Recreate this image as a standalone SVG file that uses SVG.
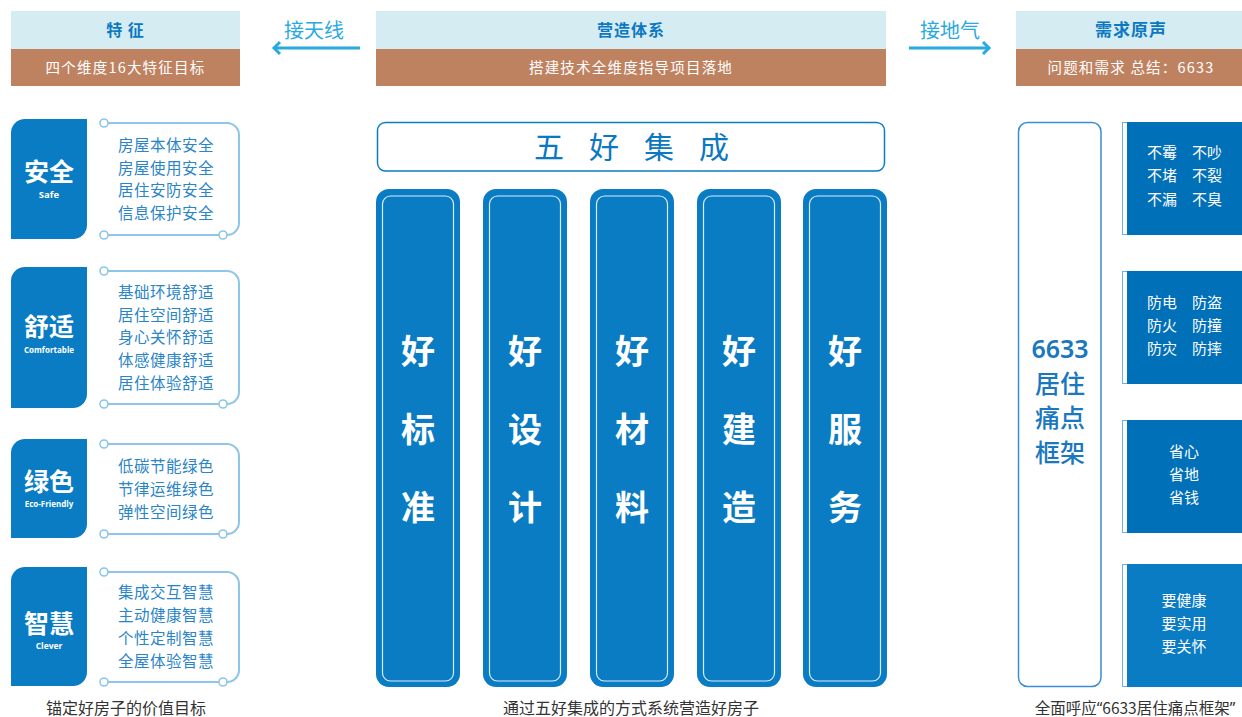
<svg xmlns="http://www.w3.org/2000/svg" width="1242" height="717" viewBox="0 0 1242 717">
<style>
text{font-family:"Noto Sans CJK SC","Noto Sans",sans-serif}
.hb{fill:#d5ecf3}
.br{fill:#bf8261}
.ht{fill:#0b78c1;font-size:16px;font-weight:bold;text-anchor:middle;letter-spacing:1px}
.st{fill:#ffffff;font-size:14.5px;text-anchor:middle;letter-spacing:1.2px}
.arr{fill:#29a9e1;font-size:20px;text-anchor:middle}
.tag{fill:#0a7cc4}
.tg{fill:#fff;font-size:25px;font-weight:bold;text-anchor:middle}
.te{fill:#fff;font-size:9.5px;font-weight:bold;text-anchor:middle;font-family:"Open Sans","Noto Sans",sans-serif}
.bk{fill:none;stroke:#8dc6e8;stroke-width:2}
.dot{fill:#fff;stroke:#8dc6e8;stroke-width:1.6}
.it{fill:#2a85c8;font-size:15.5px;letter-spacing:0.5px}
.cap{fill:#333;font-size:16px;text-anchor:middle}
.col{fill:#0a7cc4}
.colin{fill:none;stroke:#d7ebf8;stroke-width:1.2}
.ct{fill:#fff;font-size:34px;font-weight:bold;text-anchor:middle}
.fw{fill:#1a78c0;font-size:25px;font-weight:500;text-anchor:middle}
.pn{fill:#0070b8}
.pt{fill:#fff;font-size:15px}
.ptc{fill:#fff;font-size:15px;text-anchor:middle}
.q{font-family:"Noto Sans","Liberation Sans",sans-serif}
</style>
<defs>
<marker id="ah" markerUnits="userSpaceOnUse" markerWidth="16" markerHeight="16" refX="11" refY="8" orient="auto-start-reverse">
<path d="M5,2 L11,8 L5,14" fill="none" stroke="#29a9e1" stroke-width="3"/>
</marker>
</defs>

<!-- headers -->
<g id="header-left">
<rect class="hb" x="11" y="11" width="229" height="38"/>
<rect class="br" x="11" y="49" width="229" height="37"/>
<text class="ht" x="125.5" y="36">特 征</text>
<text class="st" x="125.5" y="73">四个维度16大特征目标</text>
</g>
<g id="header-center">
<rect class="hb" x="376" y="11" width="510" height="38"/>
<rect class="br" x="376" y="49" width="510" height="37"/>
<text class="ht" x="631" y="36">营造体系</text>
<text class="st" x="631" y="73">搭建技术全维度指导项目落地</text>
</g>
<g id="header-right">
<rect class="hb" x="1016" y="11" width="226" height="38"/>
<rect class="br" x="1016" y="49" width="226" height="37"/>
<text class="ht" x="1131" y="36" style="font-size:17px">需求原声</text>
<text class="st" x="1131" y="73">问题和需求 总结：6633</text>
</g>

<g id="connectors">
<line x1="274" y1="48" x2="360" y2="48" stroke="#29a9e1" stroke-width="3" marker-start="url(#ah)"/>
<line x1="909" y1="48" x2="989" y2="48" stroke="#29a9e1" stroke-width="3" marker-end="url(#ah)"/>
<text class="arr" x="314" y="38">接天线</text>
<text class="arr" x="950" y="38">接地气</text>
</g>

<!-- left tags -->
<g id="safe">
<path class="tag" d="M11,133 A14,14 0 0 1 25,119 H87 V225 A14,14 0 0 1 73,239 H11 Z"/>
<text class="tg" x="49" y="181">安全</text>
<text class="te" x="49" y="198">Safe</text>
<path class="bk" d="M104,123 H227 A12,12 0 0 1 239,135 V223 A12,12 0 0 1 227,235 H104"/>
<circle class="dot" cx="104" cy="123" r="4"/><circle class="dot" cx="104" cy="235" r="4"/><circle class="dot" cx="223" cy="235" r="4"/>
<text class="it" x="118" y="151">房屋本体安全</text>
<text class="it" x="118" y="174">房屋使用安全</text>
<text class="it" x="118" y="196">居住安防安全</text>
<text class="it" x="118" y="219">信息保护安全</text>
</g>
<g id="comfortable">
<path class="tag" d="M11,281 A14,14 0 0 1 25,267 H87 V394 A14,14 0 0 1 73,408 H11 Z"/>
<text class="tg" x="49" y="336">舒适</text>
<text class="te" x="49" y="353" style="font-size:8px">Comfortable</text>
<path class="bk" d="M104,271 H227 A12,12 0 0 1 239,283 V392 A12,12 0 0 1 227,404 H104"/>
<circle class="dot" cx="104" cy="271" r="4"/><circle class="dot" cx="104" cy="404" r="4"/><circle class="dot" cx="223" cy="404" r="4"/>
<text class="it" x="118" y="298">基础环境舒适</text>
<text class="it" x="118" y="321">居住空间舒适</text>
<text class="it" x="118" y="343">身心关怀舒适</text>
<text class="it" x="118" y="366">体感健康舒适</text>
<text class="it" x="118" y="389">居住体验舒适</text>
</g>
<g id="eco">
<path class="tag" d="M11,453 A14,14 0 0 1 25,439 H87 V524 A14,14 0 0 1 73,538 H11 Z"/>
<text class="tg" x="49" y="491">绿色</text>
<text class="te" x="49" y="507" style="font-size:8px">Eco-Friendly</text>
<path class="bk" d="M104,444 H227 A12,12 0 0 1 239,456 V522 A12,12 0 0 1 227,534 H104"/>
<circle class="dot" cx="104" cy="444" r="4"/><circle class="dot" cx="104" cy="534" r="4"/><circle class="dot" cx="223" cy="534" r="4"/>
<text class="it" x="118" y="472">低碳节能绿色</text>
<text class="it" x="118" y="495">节律运维绿色</text>
<text class="it" x="118" y="518">弹性空间绿色</text>
</g>
<g id="clever">
<path class="tag" d="M11,581 A14,14 0 0 1 25,567 H87 V672 A14,14 0 0 1 73,686 H11 Z"/>
<text class="tg" x="49" y="633">智慧</text>
<text class="te" x="49" y="649" style="font-size:8.5px">Clever</text>
<path class="bk" d="M104,572 H227 A12,12 0 0 1 239,584 V670 A12,12 0 0 1 227,682 H104"/>
<circle class="dot" cx="104" cy="572" r="4"/><circle class="dot" cx="104" cy="682" r="4"/><circle class="dot" cx="223" cy="682" r="4"/>
<text class="it" x="118" y="598">集成交互智慧</text>
<text class="it" x="118" y="621">主动健康智慧</text>
<text class="it" x="118" y="644">个性定制智慧</text>
<text class="it" x="118" y="667">全屋体验智慧</text>
</g>
<text class="cap" x="126" y="714">锚定好房子的价值目标</text>

<!-- center -->
<g id="wuhao">
<rect x="377.5" y="122.5" width="507" height="48.5" rx="8" fill="#fff" stroke="#0b7dc4" stroke-width="1.5"/>
<text x="549" y="158" fill="#0b78c1" font-size="30" text-anchor="middle">五</text>
<text x="604" y="158" fill="#0b78c1" font-size="30" text-anchor="middle">好</text>
<text x="659" y="158" fill="#0b78c1" font-size="30" text-anchor="middle">集</text>
<text x="714" y="158" fill="#0b78c1" font-size="30" text-anchor="middle">成</text>
</g>
<g id="col1">
<rect class="col" x="376" y="189" width="84" height="498" rx="13"/>
<rect class="colin" x="382.5" y="196" width="71" height="485" rx="8"/>
<text class="ct" x="418" y="364">好</text><text class="ct" x="418" y="442">标</text><text class="ct" x="418" y="520">准</text>
</g>
<g id="col2">
<rect class="col" x="483" y="189" width="84" height="498" rx="13"/>
<rect class="colin" x="489.5" y="196" width="71" height="485" rx="8"/>
<text class="ct" x="525" y="364">好</text><text class="ct" x="525" y="442">设</text><text class="ct" x="525" y="520">计</text>
</g>
<g id="col3">
<rect class="col" x="590" y="189" width="84" height="498" rx="13"/>
<rect class="colin" x="596.5" y="196" width="71" height="485" rx="8"/>
<text class="ct" x="632" y="364">好</text><text class="ct" x="632" y="442">材</text><text class="ct" x="632" y="520">料</text>
</g>
<g id="col4">
<rect class="col" x="697" y="189" width="84" height="498" rx="13"/>
<rect class="colin" x="703.5" y="196" width="71" height="485" rx="8"/>
<text class="ct" x="739" y="364">好</text><text class="ct" x="739" y="442">建</text><text class="ct" x="739" y="520">造</text>
</g>
<g id="col5">
<rect class="col" x="803" y="189" width="84" height="498" rx="13"/>
<rect class="colin" x="809.5" y="196" width="71" height="485" rx="8"/>
<text class="ct" x="845" y="364">好</text><text class="ct" x="845" y="442">服</text><text class="ct" x="845" y="520">务</text>
</g>
<text class="cap" x="631" y="714">通过五好集成的方式系统营造好房子</text>

<!-- right -->
<g id="framework">
<rect x="1018.5" y="122.5" width="82.5" height="564" rx="9" fill="#fff" stroke="#3a8fd0" stroke-width="1.5"/>
<text class="fw" x="1060" y="358" style="font-family:'Noto Sans','Noto Sans CJK SC',sans-serif;font-weight:600">6633</text>
<text class="fw" x="1060" y="393">居住</text>
<text class="fw" x="1060" y="427">痛点</text>
<text class="fw" x="1060" y="462">框架</text>
</g>
<g id="panel1">
<rect x="1122.5" y="122.5" width="121" height="112" fill="#fff" stroke="#6fb1e0" stroke-width="1"/>
<rect class="pn" x="1127" y="122" width="115" height="113"/>
<text class="pt" x="1147" y="158">不霉</text><text class="pt" x="1192" y="158">不吵</text>
<text class="pt" x="1147" y="181">不堵</text><text class="pt" x="1192" y="181">不裂</text>
<text class="pt" x="1147" y="205">不漏</text><text class="pt" x="1192" y="205">不臭</text>
</g>
<g id="panel2">
<rect x="1122.5" y="271.5" width="121" height="112" fill="#fff" stroke="#6fb1e0" stroke-width="1"/>
<rect class="pn" x="1127" y="271" width="115" height="113"/>
<text class="pt" x="1147" y="308">防电</text><text class="pt" x="1192" y="308">防盗</text>
<text class="pt" x="1147" y="331">防火</text><text class="pt" x="1192" y="331">防撞</text>
<text class="pt" x="1147" y="354">防灾</text><text class="pt" x="1192" y="354">防摔</text>
</g>
<g id="panel3">
<rect x="1122.5" y="420.5" width="121" height="112" fill="#fff" stroke="#6fb1e0" stroke-width="1"/>
<rect class="pn" x="1127" y="420" width="115" height="113"/>
<text class="ptc" x="1184" y="457">省心</text>
<text class="ptc" x="1184" y="480">省地</text>
<text class="ptc" x="1184" y="503">省钱</text>
</g>
<g id="panel4">
<rect x="1122.5" y="564.5" width="121" height="122" fill="#fff" stroke="#6fb1e0" stroke-width="1"/>
<rect x="1127" y="564" width="115" height="123" fill="#0a7cc4"/>
<text class="ptc" x="1184" y="606">要健康</text>
<text class="ptc" x="1184" y="629">要实用</text>
<text class="ptc" x="1184" y="652">要关怀</text>
</g>
<text class="cap" x="1135" y="714" style="font-size:15.5px">全面呼应<tspan class="q">“</tspan>6633居住痛点框架<tspan class="q">”</tspan></text>
</svg>
